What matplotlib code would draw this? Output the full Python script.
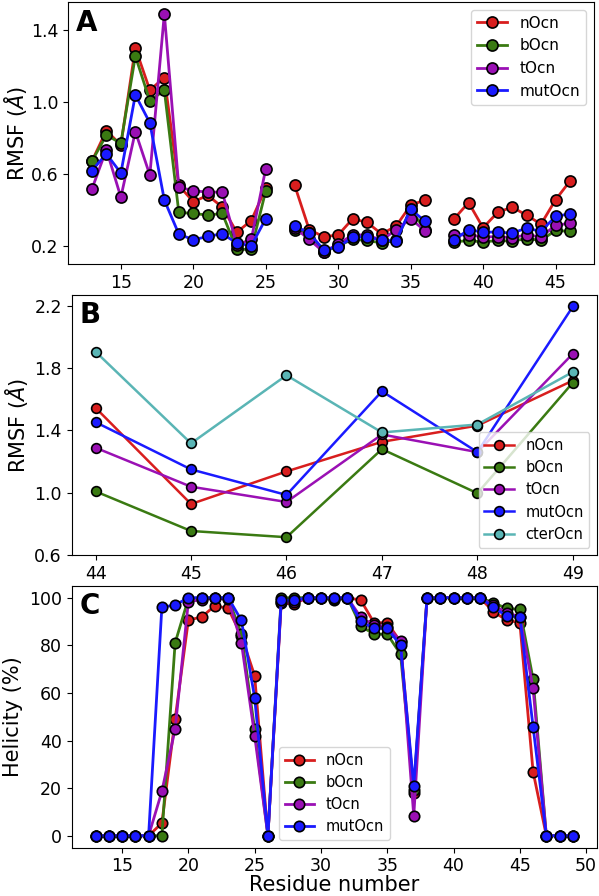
import matplotlib
matplotlib.use("Agg")
import matplotlib.pyplot as plt
import numpy as np

nan = np.nan

# Panel A: RMSF per residue (gaps at 26 and 37)
res_a = list(range(13, 47))
a_nOcn = [0.67, 0.84, 0.76, 1.30, 1.065, 1.135, 0.535, 0.445, 0.48, 0.415, 0.275, 0.34, 0.52, nan,
          0.535, 0.29, 0.25, 0.26, 0.35, 0.33, 0.265, 0.31, 0.425, 0.455, nan,
          0.35, 0.44, 0.30, 0.385, 0.415, 0.37, 0.32, 0.455, 0.56]
a_bOcn = [0.67, 0.815, 0.77, 1.255, 1.005, 1.065, 0.385, 0.38, 0.37, 0.38, 0.18, 0.18, 0.505, nan,
          0.29, 0.27, 0.165, 0.20, 0.235, 0.23, 0.215, 0.23, 0.40, 0.29, nan,
          0.22, 0.23, 0.22, 0.23, 0.225, 0.24, 0.23, 0.285, 0.28]
a_tOcn = [0.515, 0.735, 0.47, 0.835, 0.593, 1.489, 0.526, 0.506, 0.498, 0.498, 0.205, 0.235, 0.628, nan,
          0.30, 0.235, 0.165, 0.21, 0.26, 0.26, 0.23, 0.29, 0.35, 0.283, nan,
          0.26, 0.26, 0.25, 0.25, 0.245, 0.26, 0.25, 0.313, 0.326]
a_mutOcn = [0.618, 0.711, 0.604, 1.039, 0.883, 0.454, 0.265, 0.233, 0.252, 0.267, 0.215, 0.2, 0.35, nan,
            0.311, 0.27, 0.178, 0.193, 0.248, 0.25, 0.23, 0.228, 0.404, 0.335, nan,
            0.233, 0.289, 0.276, 0.276, 0.27, 0.298, 0.28, 0.363, 0.378]

# Panel B: RMSF residues 44-49
res_b = [44, 45, 46, 47, 48, 49]
b_nOcn = [1.544, 0.927, 1.136, 1.326, 1.43, 1.719]
b_bOcn = [1.008, 0.754, 0.714, 1.279, 0.996, 1.706]
b_tOcn = [1.288, 1.038, 0.94, 1.373, 1.26, 1.891]
b_mutOcn = [1.452, 1.149, 0.985, 1.65, 1.26, 2.194]
b_cterOcn = [1.904, 1.316, 1.753, 1.386, 1.437, 1.774]

# Panel C: helicity (%)
res_c = list(range(13, 50))
c_nOcn = [0, 0, 0, 0, 0, 5.3, 49, 90.6, 91.9, 96.6, 95.5, 84, 67.2, 0,
          97.6, 97.5, 100, 100, 100, 100, 99, 89.5, 89.5, 81.5, 18,
          100, 100, 100, 100, 100, 94.1, 90.6, 89.5, 26.9, 0, 0, 0]
c_bOcn = [0, 0, 0, 0, 0, 0, 81, 99.6, 100, 100, 100, 84.7, 44.7, 0,
          100, 100, 100, 100, 99, 100, 88.1, 84.7, 84.7, 76.3, 19.2,
          100, 100, 100, 100, 100, 97.9, 95.5, 95.1, 65.8, 0, 0, 0]
c_tOcn = [0, 0, 0, 0, 0, 18.6, 44.8, 98.3, 99.2, 99.8, 99.3, 81.1, 42, 0,
          98.3, 98, 100, 100, 99.4, 100, 91.8, 88.5, 87.8, 81.8, 8.3,
          100, 100, 100, 100, 100, 96.8, 93.7, 92, 61.9, 0, 0, 0]
c_mutOcn = [0, 0, 0, 0, 0, 96, 96.9, 100, 100, 100, 100, 90.5, 58, 0,
            98.9, 98.9, 100, 100, 100, 100, 90.1, 87.1, 87.1, 80, 20.9,
            100, 100, 100, 100, 100, 96, 92.3, 92, 45.8, 0, 0, 0]

red = '#d81e1e'
green = '#3a7a12'
purple = '#9a10b4'
blue = '#1a1aff'
cyan = '#5ab5b5'

fig = plt.figure(figsize=(5.99, 8.96), dpi=100)
axA = fig.add_axes([0.1135, 0.7054, 0.878, 0.2924])
axB = fig.add_axes([0.1197, 0.3806, 0.8765, 0.2902])
axC = fig.add_axes([0.1197, 0.0540, 0.8765, 0.2922])

st = dict(marker='o', mec='black', mew=1.2)

axA.plot(res_a, a_nOcn, color=red, lw=2, ms=8, label='nOcn', **st)
axA.plot(res_a, a_bOcn, color=green, lw=2, ms=8, label='bOcn', **st)
axA.plot(res_a, a_tOcn, color=purple, lw=2, ms=8, label='tOcn', **st)
axA.plot(res_a, a_mutOcn, color=blue, lw=2, ms=8, label='mutOcn', **st)
axA.set_yticks([0.2, 0.6, 1.0, 1.4])
axA.set_ylabel(r'RMSF ($\AA$)', fontsize=15, labelpad=1)
axA.legend(loc='upper right', fontsize=11)

axB.plot(res_b, b_nOcn, color=red, lw=1.8, ms=7, label='nOcn', **st)
axB.plot(res_b, b_bOcn, color=green, lw=1.8, ms=7, label='bOcn', **st)
axB.plot(res_b, b_tOcn, color=purple, lw=1.8, ms=7, label='tOcn', **st)
axB.plot(res_b, b_mutOcn, color=blue, lw=1.8, ms=7, label='mutOcn', **st)
axB.plot(res_b, b_cterOcn, color=cyan, lw=1.8, ms=7, label='cterOcn', **st)
axB.set_yticks([0.6, 1.0, 1.4, 1.8, 2.2])
axB.set_ylabel(r'RMSF ($\AA$)', fontsize=15, labelpad=3)
axB.legend(loc='lower right', fontsize=10.5)

axC.plot(res_c, c_nOcn, color=red, lw=2, ms=7.5, label='nOcn', **st)
axC.plot(res_c, c_bOcn, color=green, lw=2, ms=7.5, label='bOcn', **st)
axC.plot(res_c, c_tOcn, color=purple, lw=2, ms=7.5, label='tOcn', **st)
axC.plot(res_c, c_mutOcn, color=blue, lw=2, ms=7.5, label='mutOcn', **st)
axC.set_ylabel('Helicity (%)', fontsize=15)
axC.set_xlabel('Residue number', fontsize=15, labelpad=0)
axC.legend(loc='lower center', fontsize=10.5)

for ax, letter in [(axA, 'A'), (axB, 'B'), (axC, 'C')]:
    ax.tick_params(labelsize=12.5)
    ax.text(0.015, 0.975, letter, transform=ax.transAxes, fontsize=20,
            fontweight='bold', va='top', ha='left')

fig.savefig('out.png', dpi=100)
